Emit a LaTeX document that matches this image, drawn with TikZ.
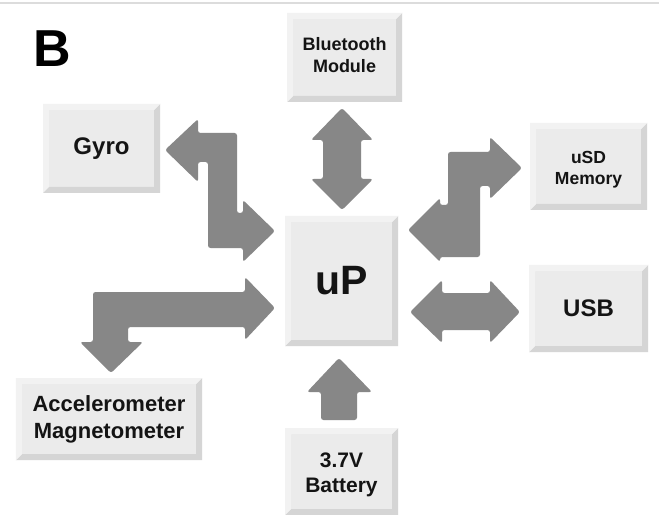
\documentclass[tikz,border=0pt]{standalone}
\usepackage{fontspec}
\setmainfont{Liberation Sans}
\definecolor{arrowgray}{HTML}{878787}
\definecolor{boxfill}{HTML}{EBEBEB}
\definecolor{boxdark}{HTML}{D5D5D5}
\definecolor{boxlight}{HTML}{F2F2F2}
\definecolor{txt}{HTML}{141414}
\definecolor{rule}{HTML}{DCDCDC}
\tikzset{
  blk/.style={rectangle, inner sep=0pt, fill=boxfill, text=txt, align=center,
    path picture={
      \fill[boxdark] (path picture bounding box.south west) -- (path picture bounding box.south east)
        -- (path picture bounding box.north east) -- ([shift={(-6bp,-6bp)}]path picture bounding box.north east)
        -- ([shift={(-6bp,6bp)}]path picture bounding box.south east) -- ([shift={(6bp,6bp)}]path picture bounding box.south west) -- cycle;
      \fill[boxlight] (path picture bounding box.south west) -- (path picture bounding box.north west)
        -- (path picture bounding box.north east) -- ([shift={(-6bp,-6bp)}]path picture bounding box.north east)
        -- ([shift={(6bp,-6bp)}]path picture bounding box.north west) -- ([shift={(6bp,6bp)}]path picture bounding box.south west) -- cycle;
    }},
  blockarrow/.style={fill=arrowgray, rounded corners=2.5bp},
  boxtext/.style={text=txt, align=center, inner sep=0pt}
}
\begin{document}
\begin{tikzpicture}[x=1bp,y=-1bp]
\useasboundingbox (0,0) rectangle (659,515);
\fill[white] (0,0) rectangle (659,515);
\draw[rule, line width=1.5bp] (0,3) -- (659,3);

\node[font=\bfseries\fontsize{52bp}{56bp}\selectfont, text=black, inner sep=0pt] (lbl) at (52,49) {B};

\node[blk, minimum width=115bp, minimum height=89bp,
  label={[boxtext, font=\bfseries\fontsize{18bp}{22bp}\selectfont, yshift=2bp]center:{Bluetooth\\Module}}] (bt) at (344.5,57.5) {};
\node[blk, minimum width=117bp, minimum height=89bp, font=\bfseries\fontsize{24bp}{28bp}\selectfont] (gyro) at (101.5,148.5) {Gyro};
\node[blk, minimum width=117bp, minimum height=87bp,
  label={[boxtext, font=\bfseries\fontsize{17.5bp}{21bp}\selectfont, yshift=-3.5bp]center:{uSD\\Memory}}] (usd) at (588.5,166.5) {};
\node[blk, minimum width=113bp, minimum height=130bp, font=\bfseries\fontsize{41bp}{46bp}\selectfont] (up) at (341.5,281) {uP};
\node[blk, minimum width=119bp, minimum height=87bp, font=\bfseries\fontsize{24bp}{28bp}\selectfont] (usb) at (588.5,308.5) {USB};
\node[blk, minimum width=186bp, minimum height=82bp, font=\bfseries\fontsize{22bp}{27bp}\selectfont] (acc) at (109,419) {Accelerometer\\Magnetometer};
\node[blk, minimum width=113bp, minimum height=87bp,
  label={[boxtext, font=\bfseries\fontsize{21bp}{25bp}\selectfont, yshift=-3bp]center:{3.7V\\Battery}}] (bat) at (341.5,471.5) {};

% Bluetooth <-> uP
\fill[blockarrow] (342,108) -- (373,140) -- (361,140) -- (361,179) -- (373,179) -- (342,210)
  -- (311,179) -- (323,179) -- (323,140) -- (311,140) -- cycle;
% Gyro <-> uP
\fill[blockarrow] (165,150) -- (198,119) -- (198,133) -- (237,133) -- (237,213) -- (243,213) -- (243,200)
  -- (275,231) -- (243,262) -- (243,248) -- (208,248) -- (208,162) -- (198,162) -- (198,182) -- cycle;
% uSD <-> uP
\fill[blockarrow] (522,168) -- (490,137) -- (490,152) -- (448,152) -- (448,205) -- (440,205) -- (440,198)
  -- (408,230) -- (440,262) -- (440,257) -- (480,257) -- (480,186) -- (490,186) -- (490,199) -- cycle;
% Accelerometer <-> uP
\fill[blockarrow] (275,308) -- (245,277) -- (245,292) -- (93,292) -- (93,342) -- (80,342) -- (111,373)
  -- (143,342) -- (128,342) -- (128,327) -- (245,327) -- (245,340) -- cycle;
% USB <-> uP
\fill[blockarrow] (410,312) -- (442,280) -- (442,293) -- (490,293) -- (490,280) -- (520,312)
  -- (490,343) -- (490,330) -- (442,330) -- (442,343) -- cycle;
% Battery -> uP
\fill[blockarrow] (339,358) -- (372,392) -- (357,392) -- (357,420) -- (321,420) -- (321,392) -- (307,392) -- cycle;
\end{tikzpicture}
\end{document}
